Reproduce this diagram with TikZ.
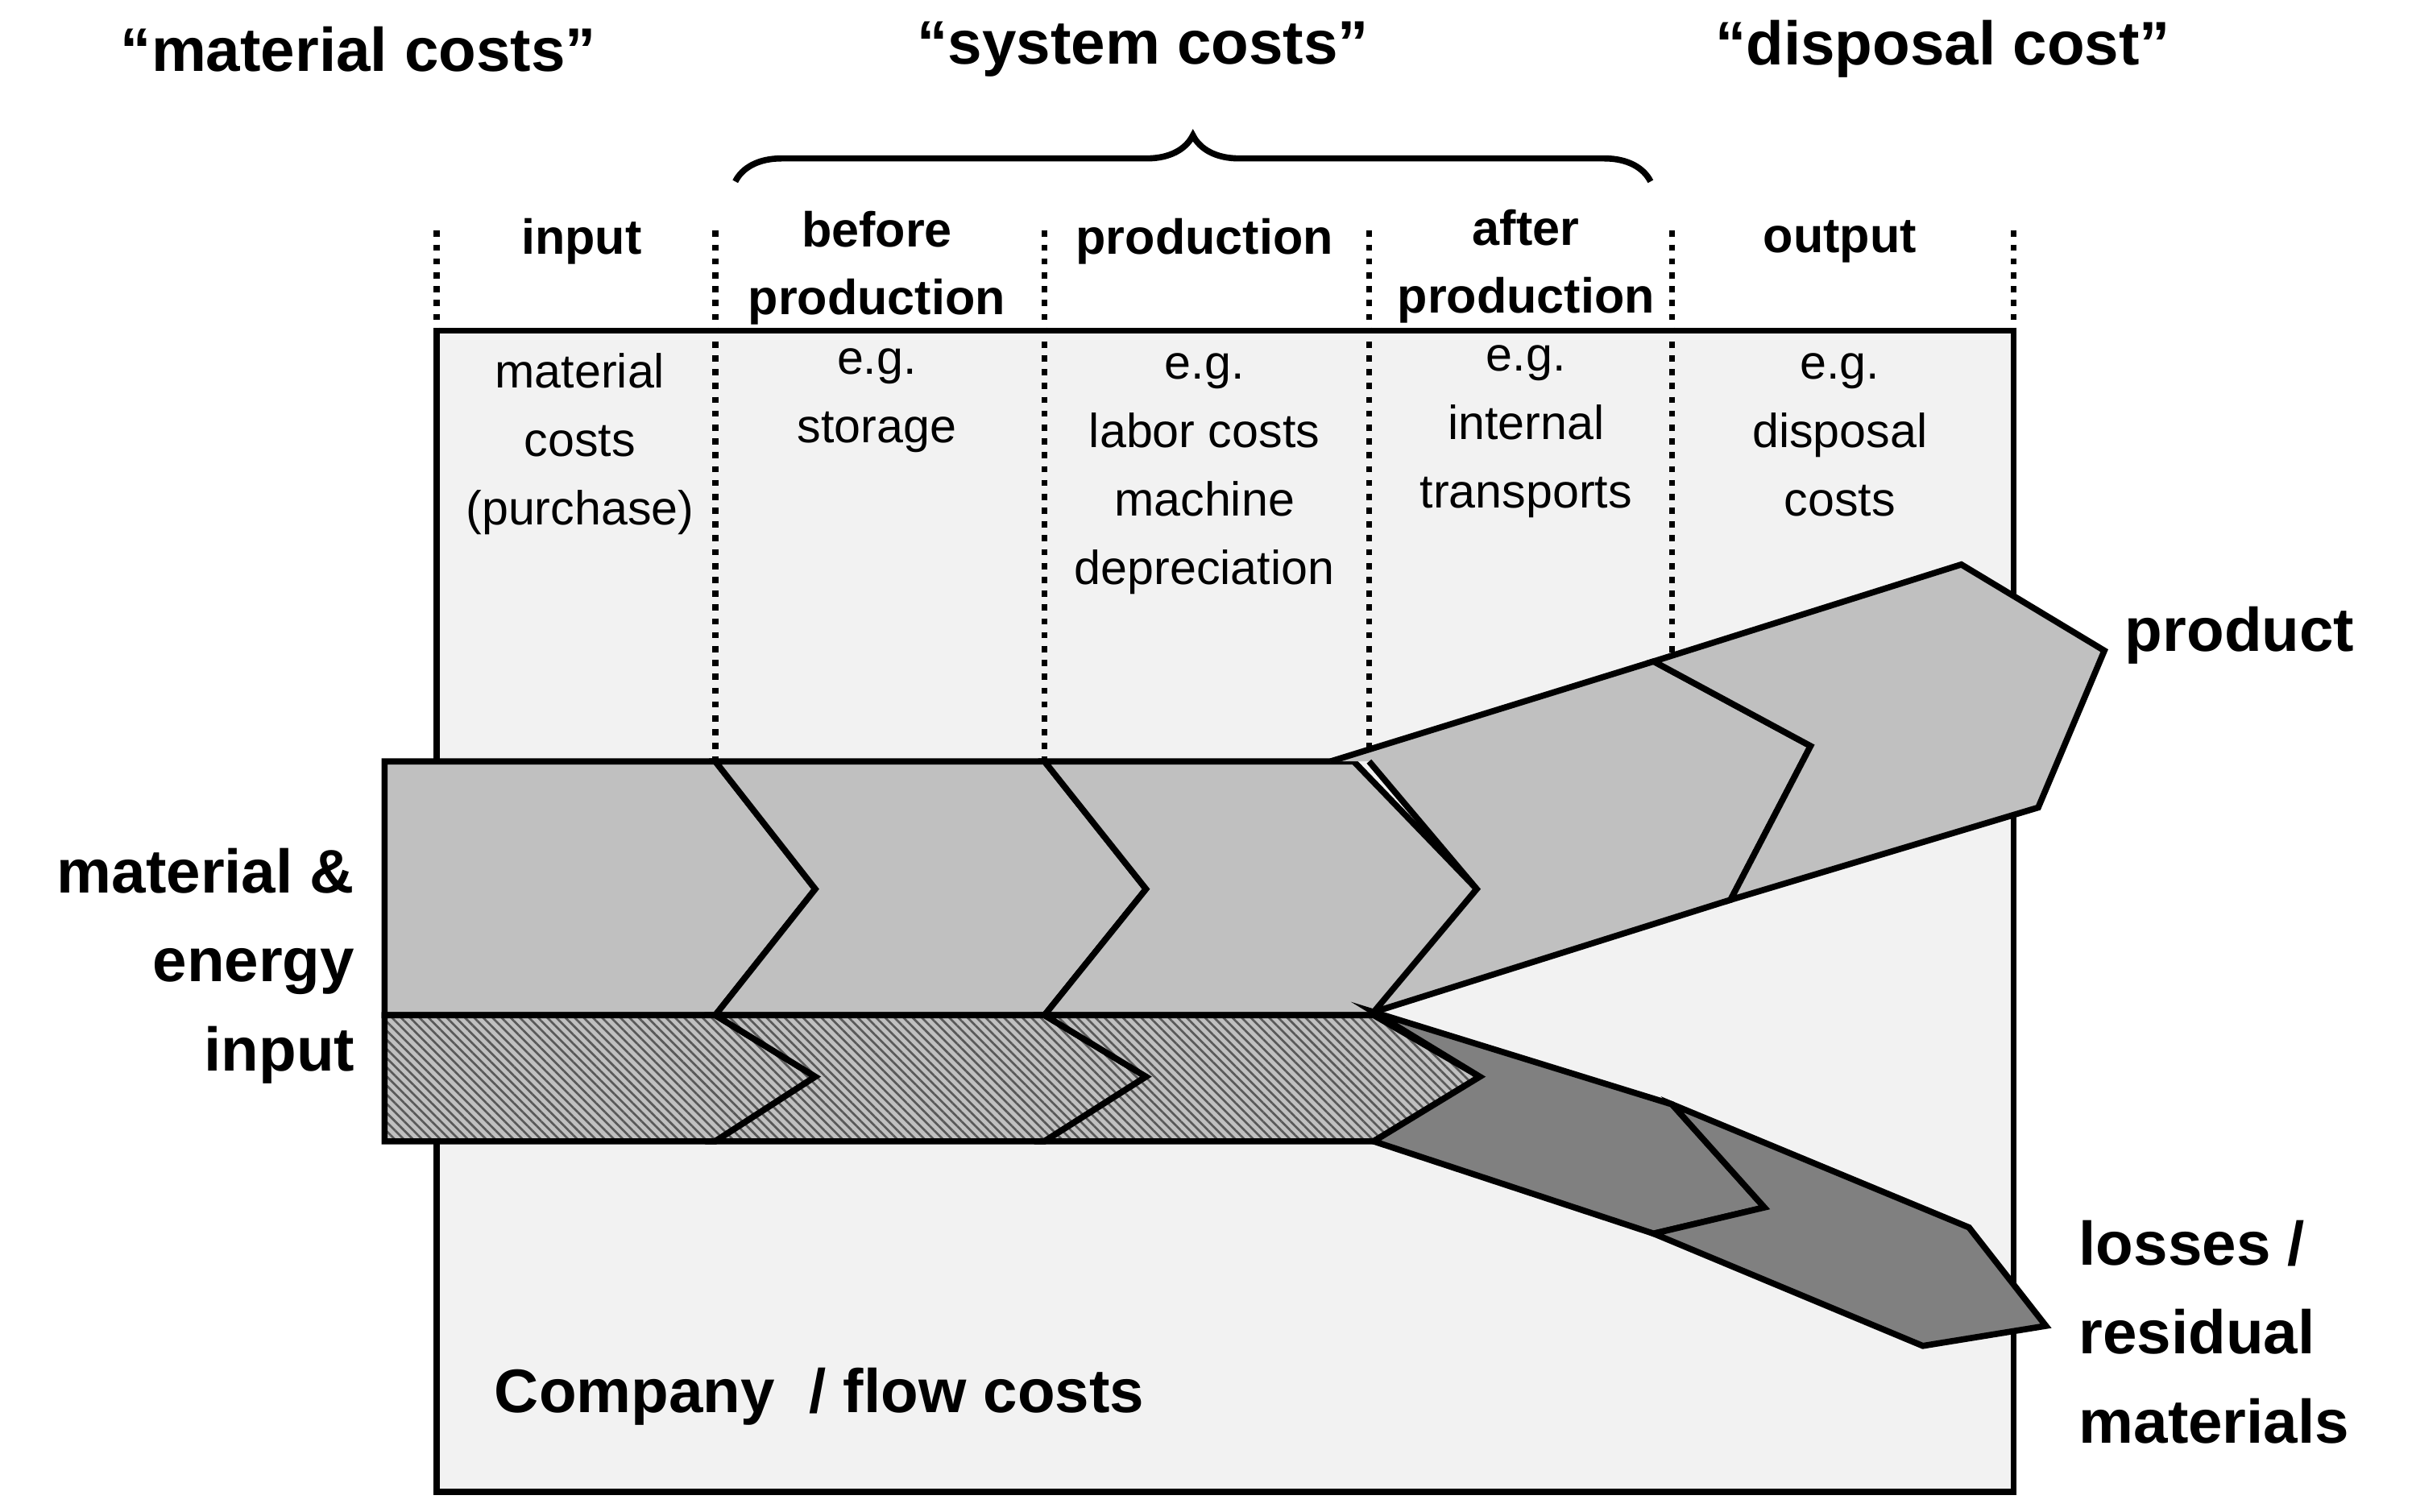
\documentclass[tikz,border=0pt]{standalone}
\usepackage{fontspec}
\setmainfont{Liberation Sans}
\usetikzlibrary{patterns.meta,decorations.pathreplacing}
\definecolor{boxbg}{HTML}{F2F2F2}
\definecolor{arr}{HTML}{C0C0C0}
\definecolor{dark}{HTML}{808080}
\begin{document}
\begin{tikzpicture}[x=1pt,y=-1pt,line join=miter,
  piece/.style={draw=black,line width=4pt,fill=arr},
  hatch/.style={draw=black,line width=4pt,preaction={fill=arr},pattern={Lines[angle=-45,distance=4.2pt,line width=1.4pt]},pattern color=black!65},
  dpiece/.style={draw=black,line width=4pt,fill=dark},
  dots/.style={line width=4pt,dash pattern=on 4pt off 5pt},
  top/.style={font=\fontsize{40}{44}\selectfont\bfseries},
  head/.style={font=\fontsize{32}{44}\selectfont\bfseries,align=center},
  cont/.style={font=\fontsize{31}{44.5}\selectfont,align=center,anchor=north},
  side/.style={font=\fontsize{40}{58}\selectfont\bfseries}]
\useasboundingbox (0,0) rectangle (1568,983);
\draw[line width=4pt,fill=boxbg] (284,215) rectangle (1309,970);
\foreach \x in {284,1309} \draw[dots] (\x,150) -- (\x,213);
\foreach \x in {465,679,890} \draw[dots] (\x,150) -- (\x,495);
\draw[dots] (1087,150) -- (1087,430);
% top labels
\node[top] (tl1) at (233,32) {“material costs”};
\node[top] (tl2) at (743,32) {“system costs”};
\node[top] (tl3) at (1263,32) {“disposal cost”};
\draw[line width=4pt,decorate,decoration={brace,amplitude=30pt}] (478,118) -- (1073,118);
% headers
\node[head] (h1) at (378,157) {input};
\node[head] (h2) at (570,174) {before\\production};
\node[head] (h3) at (783,157) {production};
\node[head] (h4) at (992,173) {after\\production};
\node[head] (h5) at (1196,157) {output};
% contents
\node[cont] (c1) at (377,226) {material\\costs\\(purchase)};
\node[cont] (c2) at (570,223) {e.g.\\storage};
\node[cont] (c3) at (783,226) {e.g.\\labor costs\\machine\\depreciation};
\node[cont] (c4) at (992,221) {e.g.\\internal\\transports};
\node[cont] (c5) at (1196,226) {e.g.\\disposal\\costs};
% upper arrow
\draw[piece] (250,495) -- (465,495) -- (530,578) -- (465,660) -- (250,660) -- cycle;
\draw[piece] (465,495) -- (679,495) -- (745,578) -- (679,660) -- (465,660) -- (530,578) -- cycle;
\draw[piece] (679,495) -- (880,495) -- (960,578) -- (893,660) -- (679,660) -- (745,578) -- cycle;
\draw[piece] (865,495) -- (1075,430) -- (1177,485) -- (1125,585) -- (893,658) -- (960,578) -- (890,495);
\draw[piece] (1075,430) -- (1275,367) -- (1368,423) -- (1325,525) -- (1125,585) -- (1177,485) -- cycle;
% hatched
\draw[hatch] (250,660) -- (465,660) -- (530,700) -- (465,742) -- (250,742) -- cycle;
\draw[hatch] (465,660) -- (679,660) -- (745,700) -- (679,742) -- (465,742) -- (530,700) -- cycle;
\draw[hatch] (679,660) -- (893,660) -- (962,700) -- (893,742) -- (679,742) -- (745,700) -- cycle;
% losses
\draw[dpiece] (893,658) -- (1087,718) -- (1147,785) -- (1075,802) -- (893,742) -- (962,700) -- cycle;
\draw[dpiece] (1087,718) -- (1280,798) -- (1330,862) -- (1250,875) -- (1075,802) -- (1147,785) -- cycle;
% side labels
\node[side,align=right,anchor=east] (in) at (234,628) {material \&\\energy\\input};
\node[side,anchor=west] (prod) at (1378,413) {product};
\node[side,align=left,anchor=west] (loss) at (1348,866) {losses /\\residual\\materials};
\node[side,anchor=west] (comp) at (318,908) {Company~ / flow costs};
\end{tikzpicture}
\end{document}
